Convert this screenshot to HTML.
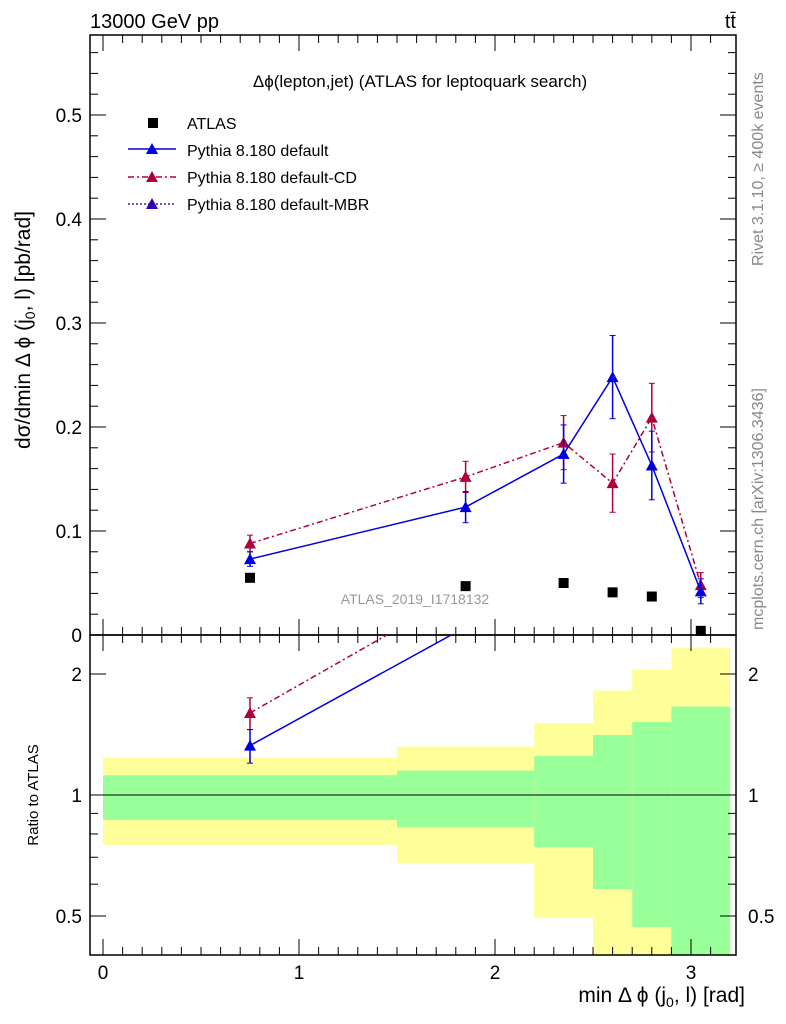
<!DOCTYPE html>
<html><head><meta charset="utf-8"><style>
body{margin:0;background:#fff}
svg{display:block;font-family:"Liberation Sans",sans-serif}
</style></head><body>
<svg id="c" width="786" height="1024" viewBox="0 0 786 1024" xmlns="http://www.w3.org/2000/svg">
<text x="90" y="28" font-size="20">13000 GeV pp</text>
<text x="736" y="28" font-size="20" text-anchor="end">tt̄</text>
<text x="420" y="87" font-size="17" text-anchor="middle">Δϕ(lepton,jet) (ATLAS for leptoquark search)</text>
<text x="415" y="604" font-size="14" fill="#999" text-anchor="middle">ATLAS_2019_I1718132</text>
<text transform="translate(763,266) rotate(-90)" font-size="16" fill="#888">Rivet 3.1.10, ≥ 400k events</text>
<text transform="translate(763,630) rotate(-90)" font-size="16" fill="#888">mcplots.cern.ch [arXiv:1306.3436]</text>
<text transform="translate(30,330) rotate(-90)" font-size="21" text-anchor="middle">dσ/dmin Δ ϕ (j<tspan font-size="14" dy="5">0</tspan><tspan dy="-5">, l) [pb/rad]</tspan></text>
<text transform="translate(38,795) rotate(-90)" font-size="15" text-anchor="middle">Ratio to ATLAS</text>
<text x="745" y="1002" font-size="21" text-anchor="end">min Δ ϕ (j<tspan font-size="14" dy="5">0</tspan><tspan dy="-5">, l) [rad]</tspan></text>
<g id="g"></g>
</svg>
<script>
const xEdges=[0,1.5,2.2,2.5,2.7,2.9,3.2];
const xCenters=[0.75,1.85,2.35,2.6,2.8,3.05];
const atlas=[0.055,0.047,0.050,0.041,0.037,0.004];
const pyDef=[0.073,0.123,0.174,0.248,0.163,0.042];
const pyDefErr=[0.007,0.015,0.028,0.040,0.033,0.012];
const pyCD=[0.088,0.152,0.185,0.146,0.209,0.048];
const pyCDErr=[0.008,0.015,0.026,0.028,0.033,0.012];
const greenUp=[1.12,1.15,1.25,1.41,1.52,1.66];
const greenDn=[0.877,0.84,0.75,0.59,0.475,0.38];
const yellowUp=[1.24,1.32,1.51,1.82,2.05,2.32];
const yellowDn=[0.76,0.685,0.50,0.38,0.38,0.38];
const yTicks=[0,0.1,0.2,0.3,0.4,0.5];
const rTicks=[0.5,1,2];
const xTicks=[0,1,2,3];

const NS="http://www.w3.org/2000/svg",G=document.getElementById('g');
const L=90,R=736,T=35,M=635,B=955;
const X=v=>103+v*196;
const Y=v=>635-v*1040;
const RY=v=>795-Math.log2(v)*121;
function el(t,a,p){const e=document.createElementNS(NS,t);for(const k in a)e.setAttribute(k,a[k]);(p||G).appendChild(e);return e;}
const clip=el('clipPath',{id:'cr'});el('rect',{x:L,y:M,width:R-L,height:B-M},clip);
const clipM=el('clipPath',{id:'cm'});el('rect',{x:L,y:T,width:R-L,height:M-T},clipM);
const bands=el('g',{'clip-path':'url(#cr)'});


for(let i=0;i<6;i++){
 const x0=X(xEdges[i]),x1=X(xEdges[i+1]);
 const y=el('rect',{x:x0,y:RY(yellowUp[i]),width:x1-x0,height:RY(Math.max(yellowDn[i],0.39))-RY(yellowUp[i])+2,fill:'#ffff99'},bands);
 
 
 const g=el('rect',{x:x0,y:RY(greenUp[i]),width:x1-x0,height:RY(Math.max(greenDn[i],0.39))-RY(greenUp[i])+2,fill:'#99ff99'},bands);
 
 
}
el('line',{x1:L,x2:R,y1:RY(1),y2:RY(1),stroke:'#000'});
el('rect',{x:L,y:T,width:R-L,height:M-T,fill:'none',stroke:'#000','stroke-width':1.5});
el('rect',{x:L,y:M,width:R-L,height:B-M,fill:'none',stroke:'#000','stroke-width':1.5});
for(let v=0;v<=0.58;v+=0.02){const y=Y(v),big=Math.abs(v*10-Math.round(v*10))<1e-6;const w=big?16:8;
 el('line',{x1:L,x2:L+w,y1:y,y2:y,stroke:'#000'});el('line',{x1:R,x2:R-w,y1:y,y2:y,stroke:'#000'});}
yTicks.forEach(v=>{const t=el('text',{x:82,y:Y(v)+7,'font-size':19,'text-anchor':'end'});t.textContent=v===0?'0':v.toFixed(1);
 
 });
[0.4,0.5,0.6,0.7,0.8,0.9,1,2].forEach(v=>{const y=RY(v),big=rTicks.includes(v),w=big?16:8;
 el('line',{x1:L,x2:L+w,y1:y,y2:y,stroke:'#000'});el('line',{x1:R,x2:R-w,y1:y,y2:y,stroke:'#000'});});
rTicks.forEach(v=>{[[82,'end'],[748,'start']].forEach(([x,a])=>{const t=el('text',{x:x,y:RY(v)+7,'font-size':19,'text-anchor':a});t.textContent=String(v);
 
 });});
for(let v=0;v<=3.2;v+=0.1){const x=X(v),big=Math.abs(v-Math.round(v))<1e-6,w=big?16:8;
 [M,B].forEach(b=>{el('line',{x1:x,x2:x,y1:b,y2:b-w,stroke:'#000'});});
 el('line',{x1:x,x2:x,y1:M,y2:M+w,stroke:'#000'});el('line',{x1:x,x2:x,y1:T,y2:T+w,stroke:'#000'});}
xTicks.forEach(v=>{const t=el('text',{x:X(v),y:979,'font-size':19,'text-anchor':'middle'});t.textContent=String(v);
 
 });
function tri(p,x,y,c){el('polygon',{points:`${x-6},${y+5} ${x+6},${y+5} ${x},${y-6}`,fill:c},p);}
function series(vals,errs,c,dash,name,ratio){
 const grp=el('g',{'clip-path':ratio?'url(#cr)':'url(#cm)'});
 
 
 const f=ratio?((v,i)=>RY(v/atlas[i])):((v)=>Y(v));
 const pts=vals.map((v,i)=>[X(xCenters[i]),f(v,i)]);
 el('polyline',{points:pts.map(p=>p.join(',')).join(' '),fill:'none',stroke:c,'stroke-width':1.5,'stroke-dasharray':dash},grp);
 vals.forEach((v,i)=>{const x=pts[i][0];if(ratio&&v/atlas[i]>2.5)return;const y1=f(v+errs[i],i),y2=f(Math.max(v-errs[i],1e-4),i);
  el('line',{x1:x,x2:x,y1:y1,y2:y2,stroke:c,'stroke-width':1.5},grp);
  el('line',{x1:x-3,x2:x+3,y1:y1,y2:y1,stroke:c},grp);el('line',{x1:x-3,x2:x+3,y1:y2,y2:y2,stroke:c},grp);
  tri(grp,x,pts[i][1],c);});
}
series(pyCD,pyCDErr,'#b0003c','6,3,2,3','series-default-cd',false);
series(pyDef,pyDefErr,'#0000e0','','series-default',false);
series(pyCD,pyCDErr,'#b0003c','6,3,2,3','ratio-default-cd',true);
series(pyDef,pyDefErr,'#0000e0','','ratio-default',true);
const ag=el('g',{});


atlas.forEach((v,i)=>{el('rect',{x:X(xCenters[i])-5,y:Y(v)-5,width:10,height:10,fill:'#000'},ag);});
const lg=el('g',{});


el('rect',{x:148,y:118,width:10,height:10,fill:'#000'},lg);
el('line',{x1:128,x2:176,y1:149,y2:149,stroke:'#0000e0','stroke-width':1.5},lg);tri(lg,152,149,'#0000e0');
el('line',{x1:128,x2:176,y1:177,y2:177,stroke:'#b0003c','stroke-width':1.5,'stroke-dasharray':'6,3,2,3'},lg);tri(lg,152,177,'#b0003c');
el('line',{x1:128,x2:176,y1:204,y2:204,stroke:'#3020c0','stroke-width':1.5,'stroke-dasharray':'2,2'},lg);tri(lg,152,204,'#3000b0');
['ATLAS','Pythia 8.180 default','Pythia 8.180 default-CD','Pythia 8.180 default-MBR'].forEach((s,i)=>{
 const t=el('text',{x:187,y:129+i*27,'font-size':16},lg);t.textContent=s;
 
 });
</script>
</body></html>
